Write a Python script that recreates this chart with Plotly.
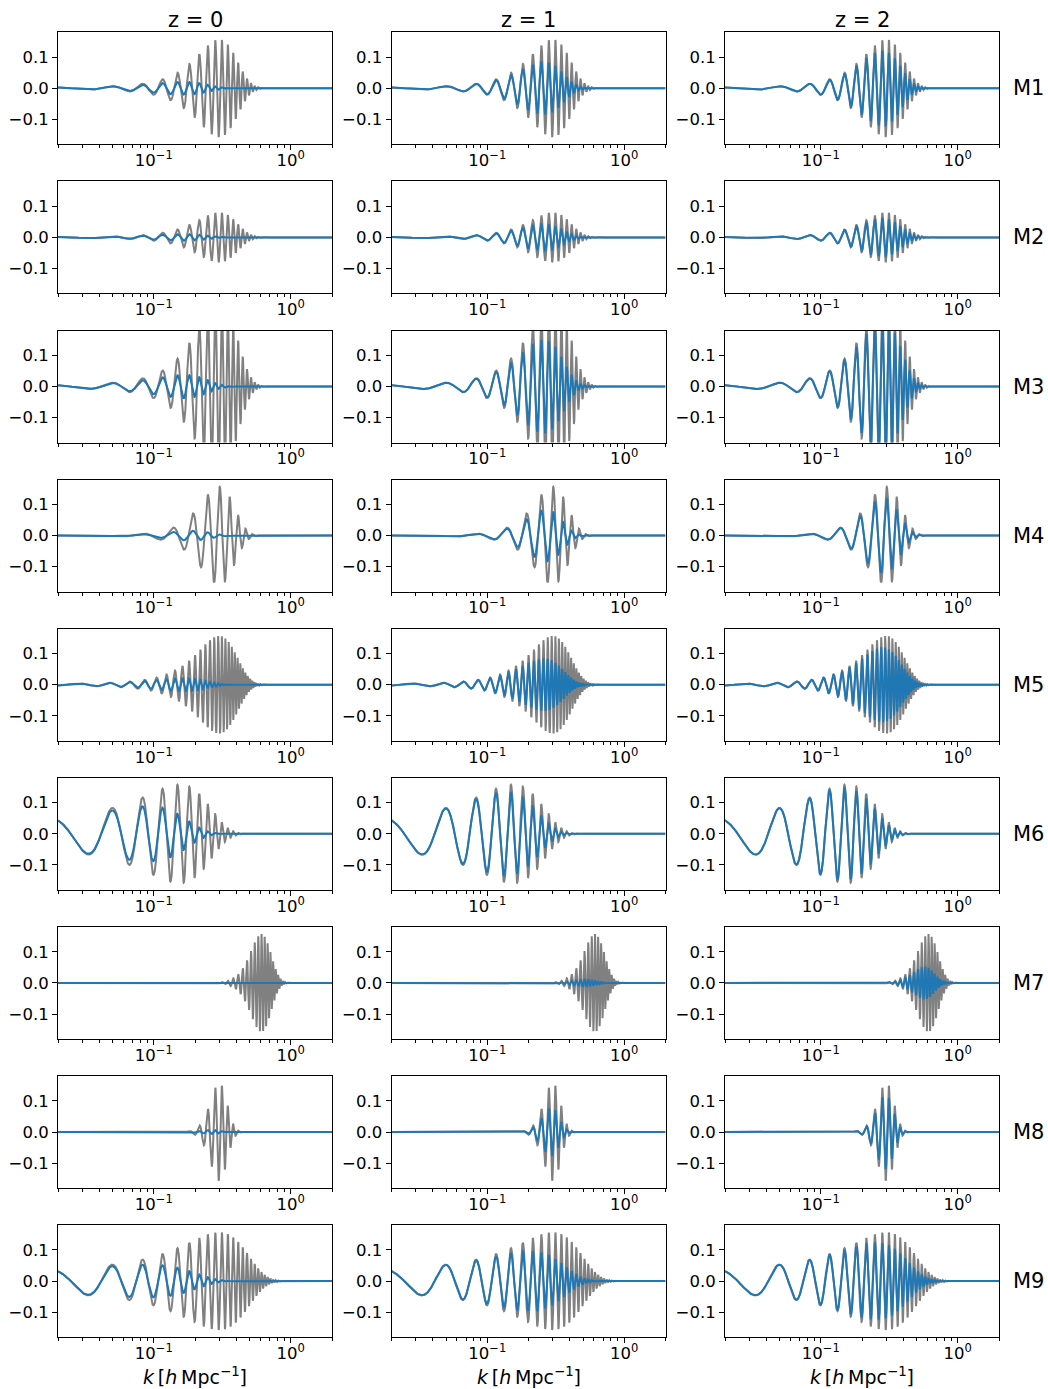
import numpy as np
import plotly.graph_objects as go

# ---- panel labels ----
models = ["M1", "M2", "M3", "M4", "M5", "M6", "M7", "M8", "M9"]
redshift_titles = ["z = 0", "z = 1", "z = 2"]

# ---- wiggle template per model: Gaussian envelope in k times -cos(k r) ----
env_amp = [0.157, 0.080, 0.280, 0.157, 0.157, 0.158, 0.157, 0.157, 0.157]
env_center = [0.30, 0.30, 0.30, 0.30, 0.30, 0.155, 0.61, 0.30, 0.30]
env_width = [0.100, 0.100, 0.100, 0.085, 0.100, 0.093, 0.105, 0.042, 0.170]
osc_scale = [190.0, 190.0, 190.0, 114.0, 330.0, 190.0, 190.0, 190.0, 190.0]

# ---- non-linear damping scale (Mpc/h) for each redshift column ----
damping_scale = [9.0, 4.0, 2.5]

# ---- axis ticks ----
x_major = [0.1, 1.0]
x_major_text = ["10<sup>\u22121</sup>", "10<sup>0</sup>"]
x_minor = [m * 10.0 ** e for e in (-2, -1, 0) for m in range(2, 10)]
y_major = [-0.1, 0.0, 0.1]
y_major_text = ["\u22120.1", "0.0", "0.1"]

W, H = 1048, 1389
col_left = [58.0, 391.5, 725.0]
col_width = 274.0
row_top0 = 32.3
row_pitch = 149.1
row_height = 112.0

FONT = "DejaVu Sans"
GRAY = "#808080"
BLUE = "#1f77b4"

k = np.logspace(np.log10(0.02), np.log10(2.0), 6000)

fig = go.Figure()

for i in range(len(models)):
    env = env_amp[i] * np.exp(-0.5 * ((k - env_center[i]) / env_width[i]) ** 2)
    raw = -env * np.cos(k * osc_scale[i])
    for j in range(3):
        n = i * 3 + j + 1
        xa = "x" if n == 1 else f"x{n}"
        ya = "y" if n == 1 else f"y{n}"
        damped = raw * np.exp(-0.5 * (k * damping_scale[j]) ** 2)
        fig.add_trace(go.Scatter(x=k, y=raw, mode="lines", xaxis=xa, yaxis=ya,
                                 line=dict(color=GRAY, width=2), showlegend=False,
                                 hoverinfo="skip"))
        fig.add_trace(go.Scatter(x=k, y=damped, mode="lines", xaxis=xa, yaxis=ya,
                                 line=dict(color=BLUE, width=2), showlegend=False,
                                 hoverinfo="skip"))

        x0 = col_left[j]
        top = row_top0 + i * row_pitch
        bot = top + row_height
        xkey = "xaxis" if n == 1 else f"xaxis{n}"
        ykey = "yaxis" if n == 1 else f"yaxis{n}"
        fig.layout[xkey] = dict(
            type="log", range=[np.log10(0.02), np.log10(2.0)],
            domain=[x0 / W, (x0 + col_width) / W], anchor=ya,
            showline=True, linecolor="black", linewidth=1, mirror=True,
            showgrid=False, zeroline=False,
            tickmode="array", tickvals=x_major, ticktext=x_major_text,
            ticks="outside", ticklen=5, tickwidth=1, tickcolor="black",
            ticklabelstandoff=-4,
            tickfont=dict(family=FONT, size=16.5, color="black"),
            minor=dict(tickmode="array", tickvals=x_minor, ticks="outside",
                       ticklen=3, tickwidth=1, tickcolor="black", showgrid=False),
        )
        fig.layout[ykey] = dict(
            range=[-0.18, 0.18],
            domain=[1 - bot / H, 1 - top / H], anchor=xa,
            showline=True, linecolor="black", linewidth=1, mirror=True,
            showgrid=False, zeroline=False,
            tickmode="array", tickvals=y_major, ticktext=y_major_text,
            ticks="outside", ticklen=5, tickwidth=1, tickcolor="black",
            tickfont=dict(family=FONT, size=16.5, color="black"),
        )

annotations = []
for j in range(3):
    cx = (col_left[j] + col_width / 2) / W
    annotations.append(dict(text=redshift_titles[j], x=cx, y=1 - 19.5 / H,
                            xref="paper", yref="paper", showarrow=False,
                            xanchor="center", yanchor="middle",
                            font=dict(family=FONT, size=21, color="black")))
    annotations.append(dict(text="<i>k</i>\u2009[<i>h</i>\u2009Mpc<sup>\u22121</sup>]",
                            x=cx, y=1 - 1376 / H,
                            xref="paper", yref="paper", showarrow=False,
                            xanchor="center", yanchor="middle",
                            font=dict(family=FONT, size=19, color="black")))
for i in range(len(models)):
    cy = row_top0 + i * row_pitch + row_height / 2
    annotations.append(dict(text=models[i], x=1011 / W, y=1 - cy / H,
                            xref="paper", yref="paper", showarrow=False,
                            xanchor="left", yanchor="middle",
                            font=dict(family=FONT, size=21, color="black")))

fig.update_layout(width=W, height=H, margin=dict(l=0, r=0, t=0, b=0),
                  paper_bgcolor="white", plot_bgcolor="white",
                  annotations=annotations, showlegend=False)

fig.write_html("out.html")
